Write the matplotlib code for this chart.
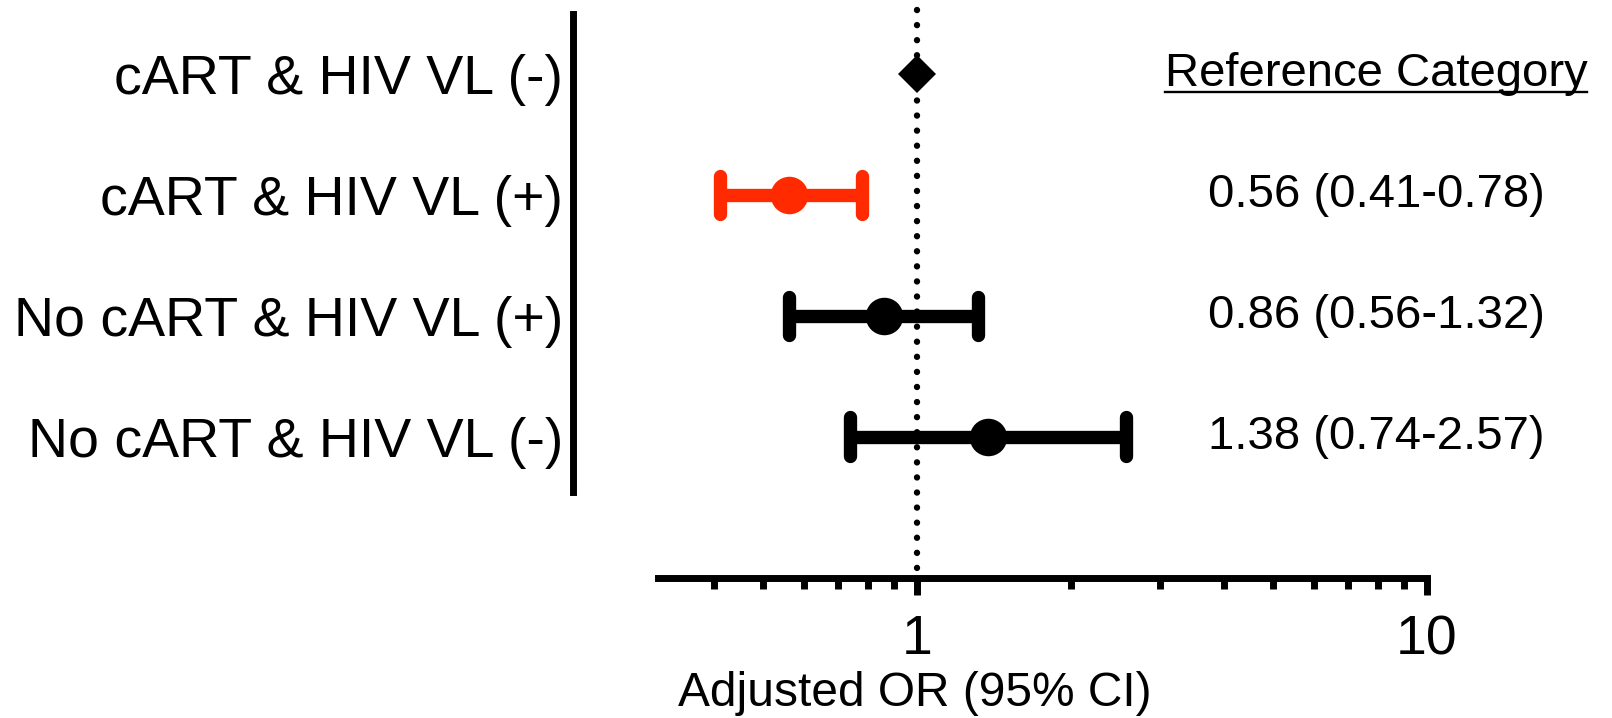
import numpy as np
import matplotlib
matplotlib.use('Agg')
import matplotlib.pyplot as plt
from matplotlib.lines import Line2D
from matplotlib.ticker import FixedLocator, NullFormatter

plt.rcParams['font.family'] = ['Liberation Sans', 'DejaVu Sans']

# data
groups = ['cART & HIV VL (-)', 'cART & HIV VL (+)',
          'No cART & HIV VL (+)', 'No cART & HIV VL (-)']
odds = [1.0, 0.56, 0.86, 1.38]
ci_low = [None, 0.41, 0.56, 0.74]
ci_high = [None, 0.78, 1.32, 2.57]
or_text = ['Reference Category', '0.56 (0.41-0.78)',
           '0.86 (0.56-1.32)', '1.38 (0.74-2.57)']
colors = ['black', '#ff2a00', 'black', 'black']
major_ticks = [1, 10]
minor_ticks = [0.4, 0.5, 0.6, 0.7, 0.8, 0.9, 2, 3, 4, 5, 6, 7, 8, 9]

W, H = 1612, 718
fig = plt.figure(figsize=(W / 100, H / 100), dpi=100)
ax_l, ax_r = 657.6, 1427
ax = fig.add_axes([ax_l / W, (H - 497) / H, (ax_r - ax_l) / W, 483 / H])

ax.set_xscale('log')
ax.set_xlim(0.31, 10)
ax.set_ylim(3.5, -0.5)

# reference line at OR = 1
ax.plot([1, 1], [-0.53, 4.17], color='black', lw=4.6,
        ls=(0, (0.01, 2.35)), dash_capstyle='round', clip_on=False, zorder=1)

for i in range(len(groups)):
    c = colors[i]
    if ci_low[i] is None:
        ax.plot(odds[i], i, 'D', ms=19.5, mew=0, color=c, zorder=3)
        continue
    ax.hlines(i, ci_low[i], ci_high[i], color=c, lw=9.6, zorder=2)
    ax.vlines([ci_low[i], ci_high[i]], i - 0.16, i + 0.16, color=c,
              lw=9.6, capstyle='round', zorder=2)
    ax.plot(odds[i], i, 'o', ms=27, mew=0, color=c, zorder=3)

# axes styling
for s in ['top', 'right']:
    ax.spines[s].set_visible(False)
left_off = (ax_l - 573) * 72 / 100
ax.spines['left'].set_position(('outward', left_off))
ax.spines['bottom'].set_position(('outward', 58.3))
ax.spines['left'].set_linewidth(5)
ax.spines['bottom'].set_linewidth(5)
ax.spines['left'].set_bounds(3.46, -0.5)

ax.set_yticks(range(len(groups)))
ax.set_yticklabels(groups, fontsize=40)
ax.tick_params(axis='y', length=0, pad=7)

ax.xaxis.set_major_locator(FixedLocator(major_ticks))
ax.xaxis.set_minor_locator(FixedLocator(minor_ticks))
ax.xaxis.set_minor_formatter(NullFormatter())
ax.set_xticklabels([str(t) for t in major_ticks])
ax.tick_params(axis='x', which='major', length=12, width=5, pad=14, labelsize=40)
ax.tick_params(axis='x', which='minor', length=8, width=5)

ax.set_xlabel('Adjusted OR (95% CI)', fontsize=34.5)
ax.xaxis.set_label_coords((915 - ax_l) / (ax_r - ax_l), -0.36)

txt_x = (1376 - ax_l) / (ax_r - ax_l)
txts = []
for i, t in enumerate(or_text):
    txts.append(ax.text(txt_x, i, t, transform=ax.get_yaxis_transform(),
                        ha='center', va='center', fontsize=34))

# underline the reference label
fig.canvas.draw()
r = fig.canvas.get_renderer()
t0 = txts[0]
bb = t0.get_window_extent(r)
_, _, d = r.get_text_width_height_descent(t0.get_text(), t0.get_fontproperties(), ismath=False)
yl = bb.y0 + d - 6
inv = fig.transFigure.inverted()
(x0, y0), (x1, y1) = inv.transform([(bb.x0, yl), (bb.x1, yl)])
fig.add_artist(Line2D([x0, x1], [y0, y1], color='black', lw=1.7,
                      transform=fig.transFigure))

fig.savefig('out.png', dpi=100)
